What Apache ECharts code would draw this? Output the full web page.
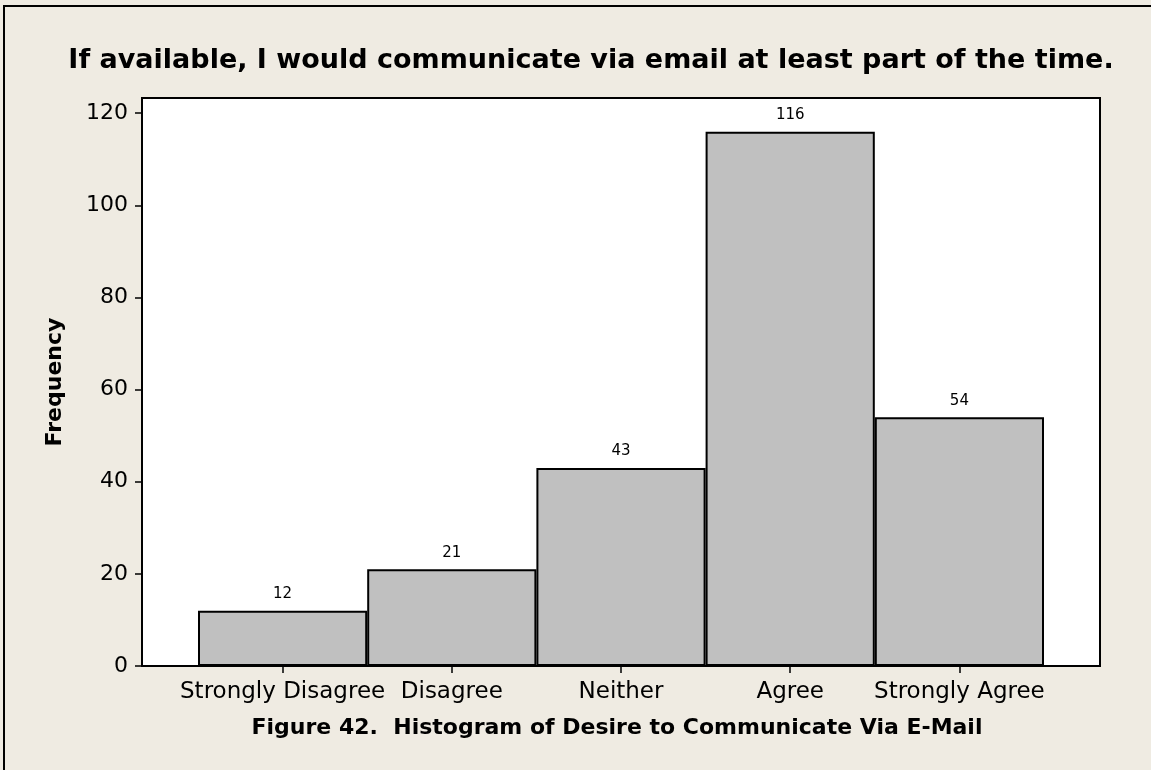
<!DOCTYPE html>
<html>
<head>
<meta charset="utf-8">
<script src="https://cdn.jsdelivr.net/npm/echarts@6/dist/echarts.min.js"></script>
<style>
html,body{margin:0;padding:0;background:#EFEBE2;}
#chart{width:1151px;height:770px;}
</style>
</head>
<body>
<div id="chart"></div>
<script>
const categories = ['Strongly Disagree', 'Disagree', 'Neither', 'Agree', 'Strongly Agree'];
const frequencies = [12, 21, 43, 116, 54];
const yTicks = [0, 20, 40, 60, 80, 100, 120];
const yMax = 123.3;
const titleText = 'If available, I would communicate via email at least part of the time.';
const captionText = 'Figure 42.  Histogram of Desire to Communicate Via E-Mail';
const yName = 'Frequency';

const FONT = 'DejaVu Sans';
const chart = echarts.init(document.getElementById('chart'), null, {renderer: 'canvas'});
chart.setOption({
  backgroundColor: '#EFEBE2',
  animation: false,
  title: [
    {text: titleText, left: 586, top: 42, textAlign: 'center',
     textStyle: {fontFamily: FONT, fontWeight: 'bold', fontSize: 27, color: '#000'}},
    {text: captionText, left: 612, top: 712, textAlign: 'center',
     textStyle: {fontFamily: FONT, fontWeight: 'bold', fontSize: 22, color: '#000'}}
  ],
  graphic: [
    {type: 'polyline', shape: {points: [[4, 770], [4, 6], [1151, 6]]},
     style: {stroke: '#000', lineWidth: 2, fill: null}, silent: true}
  ],
  grid: [
    {left: 142, right: 51, top: 98, bottom: 104, show: true, backgroundColor: '#fff',
     borderColor: '#000', borderWidth: 2},
    {left: 198, right: 107, top: 98, bottom: 104}
  ],
  xAxis: [
    {type: 'value', gridIndex: 0, show: false},
    {type: 'category', gridIndex: 1, data: categories, boundaryGap: true,
     axisLine: {show: false},
     axisTick: {show: true, alignWithLabel: true, length: 7, lineStyle: {color: '#000', width: 1.5}},
     axisLabel: {color: '#000', fontFamily: FONT, fontSize: 23, margin: 15, interval: 0}}
  ],
  yAxis: [
    {type: 'value', gridIndex: 0, min: 0, max: yMax, interval: 20,
     name: yName, nameLocation: 'middle', nameRotate: 90, nameGap: 76,
     nameTextStyle: {fontFamily: FONT, fontWeight: 'bold', fontSize: 22, color: '#000'},
     axisLine: {show: true, lineStyle: {color: '#000', width: 2}},
     axisTick: {show: true, length: 7, customValues: yTicks, lineStyle: {color: '#000', width: 1.5}},
     axisLabel: {color: '#000', fontFamily: FONT, fontSize: 22, margin: 14, customValues: yTicks},
     splitLine: {show: false}},
    {type: 'value', gridIndex: 1, min: 0, max: yMax, show: false}
  ],
  series: [{
    type: 'bar', xAxisIndex: 1, yAxisIndex: 1, data: frequencies,
    barCategoryGap: '0%',
    itemStyle: {color: '#C0C0C0', borderColor: '#000', borderWidth: 2},
    label: {show: true, position: 'top', distance: 9, color: '#000', fontFamily: FONT, fontSize: 15}
  }]
});
</script>
</body>
</html>
